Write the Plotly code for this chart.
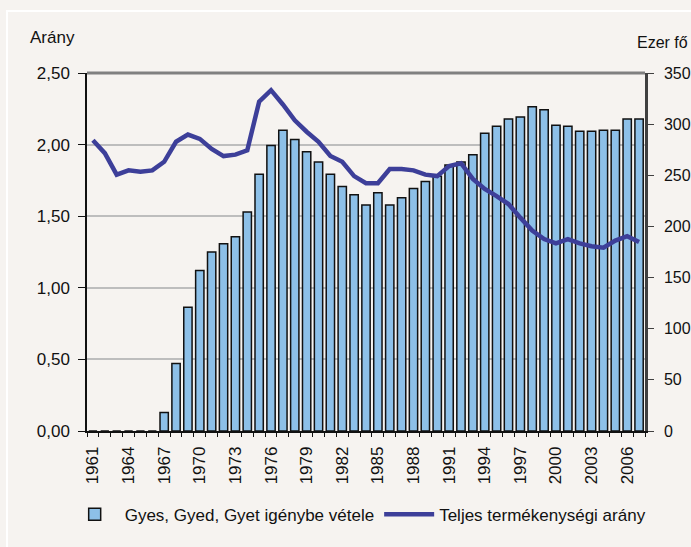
import plotly.graph_objects as go

years = list(range(1961, 2008))

# Gyes, Gyed, Gyet igénybe vétele (ezer fő) - right axis
gyes = [0, 0, 0, 0, 0, 0, 18, 66, 121, 157, 175, 183, 190, 214, 251, 279, 294,
        285, 273, 263, 251, 239, 231, 221, 233, 221, 228, 237, 244, 249, 260,
        263, 270, 291, 298, 305, 307, 317, 314, 299, 298, 293, 293, 294, 294,
        305, 305]

# Teljes termékenységi arány - left axis
tfr = [2.03, 1.94, 1.79, 1.82, 1.81, 1.82, 1.88, 2.02, 2.07, 2.04, 1.97, 1.92,
       1.93, 1.96, 2.30, 2.38, 2.28, 2.17, 2.09, 2.02, 1.92, 1.88, 1.78, 1.73,
       1.73, 1.83, 1.83, 1.82, 1.79, 1.78, 1.85, 1.87, 1.76, 1.69, 1.64, 1.585,
       1.49, 1.40, 1.34, 1.31, 1.34, 1.31, 1.29, 1.28, 1.33, 1.36, 1.32]

x_tick_years = list(range(1961, 2008, 3))
x_tick_labels = [str(y) for y in x_tick_years]
left_ticks = [0, 0.5, 1.0, 1.5, 2.0, 2.5]
left_tick_labels = ["0,00", "0,50", "1,00", "1,50", "2,00", "2,50"]
right_ticks = [0, 50, 100, 150, 200, 250, 300, 350]

FONT = "Liberation Sans, Arial, sans-serif"
BG = "#F6F3F0"

fig = go.Figure()
fig.add_trace(go.Bar(
    x=years, y=gyes, name="Gyes, Gyed, Gyet igénybe vétele",
    marker=dict(color="#8DC0E8", line=dict(color="#111111", width=1.5)),
    yaxis="y",
))
fig.add_trace(go.Scatter(
    x=years, y=tfr, name="Teljes termékenységi arány", mode="lines",
    line=dict(color="#3D3F99", width=4.5),
    yaxis="y2",
))

fig.update_layout(
    width=691, height=547,
    margin=dict(l=87, r=46, t=73, b=116, autoexpand=False),
    paper_bgcolor=BG, plot_bgcolor=BG,
    font=dict(family=FONT, size=16, color="#111111"),
    bargap=0.3,
    showlegend=True,
    legend=dict(orientation="h", x=-0.04, xanchor="left",
                y=-0.2335, yanchor="middle",
                font=dict(size=17), bgcolor="rgba(0,0,0,0)", itemwidth=50,
                traceorder="normal"),
    xaxis=dict(
        range=[1960.5, 2007.5], tickmode="array", tickvals=x_tick_years,
        ticktext=x_tick_labels, tickangle=-90, ticks="", ticklabelstandoff=7,
        showline=True, linecolor="#111111", linewidth=1.5, showgrid=False,
        zeroline=False, automargin=False, tickfont=dict(size=17),
        minor=dict(tick0=1960.5, dtick=1, ticks="outside", ticklen=4,
                   tickcolor="#111111", tickwidth=1, showgrid=False),
    ),
    yaxis=dict(
        side="right", range=[0, 350], tickmode="array", tickvals=right_ticks,
        showgrid=False, zeroline=False, showline=True, linecolor="#404040",
        linewidth=2.5, ticks="outside", ticklen=6, tickcolor="#404040",
        ticklabelstandoff=7, automargin=False,
    ),
    yaxis2=dict(
        side="left", overlaying="y", range=[0, 2.5], tickmode="array",
        tickvals=left_ticks, ticktext=left_tick_labels,
        showgrid=True, gridcolor="#BDBDBD", gridwidth=2, zeroline=False,
        showline=True, linecolor="#111111", linewidth=1.5, ticks="outside",
        ticklen=7, tickcolor="#111111", ticklabelstandoff=5, automargin=False,
        tickfont=dict(size=17),
    ),
    shapes=[
        dict(type="line", xref="paper", yref="paper", x0=0, x1=1, y0=1, y1=1,
             line=dict(color="#808080", width=3)),
        dict(type="rect", xref="paper", yref="paper", x0=-0.1434, x1=1.2,
             y0=-0.5, y1=1.1732, line=dict(color="#FFFFFF", width=2),
             layer="below"),
    ],
    annotations=[
        dict(text="Arány", xref="paper", yref="paper", x=-0.0627, y=1.0978,
             showarrow=False, xanchor="center", yanchor="middle",
             font=dict(size=17)),
        dict(text="Ezer fő", xref="paper", yref="paper", x=1.032, y=1.0838,
             showarrow=False, xanchor="center", yanchor="middle",
             font=dict(size=16)),
    ],
)

fig.write_html(
    "out.html",
    config={"displayModeBar": False},
    post_script="document.body.style.margin='0';"
                "document.body.style.background='#F6F3F0';",
)
